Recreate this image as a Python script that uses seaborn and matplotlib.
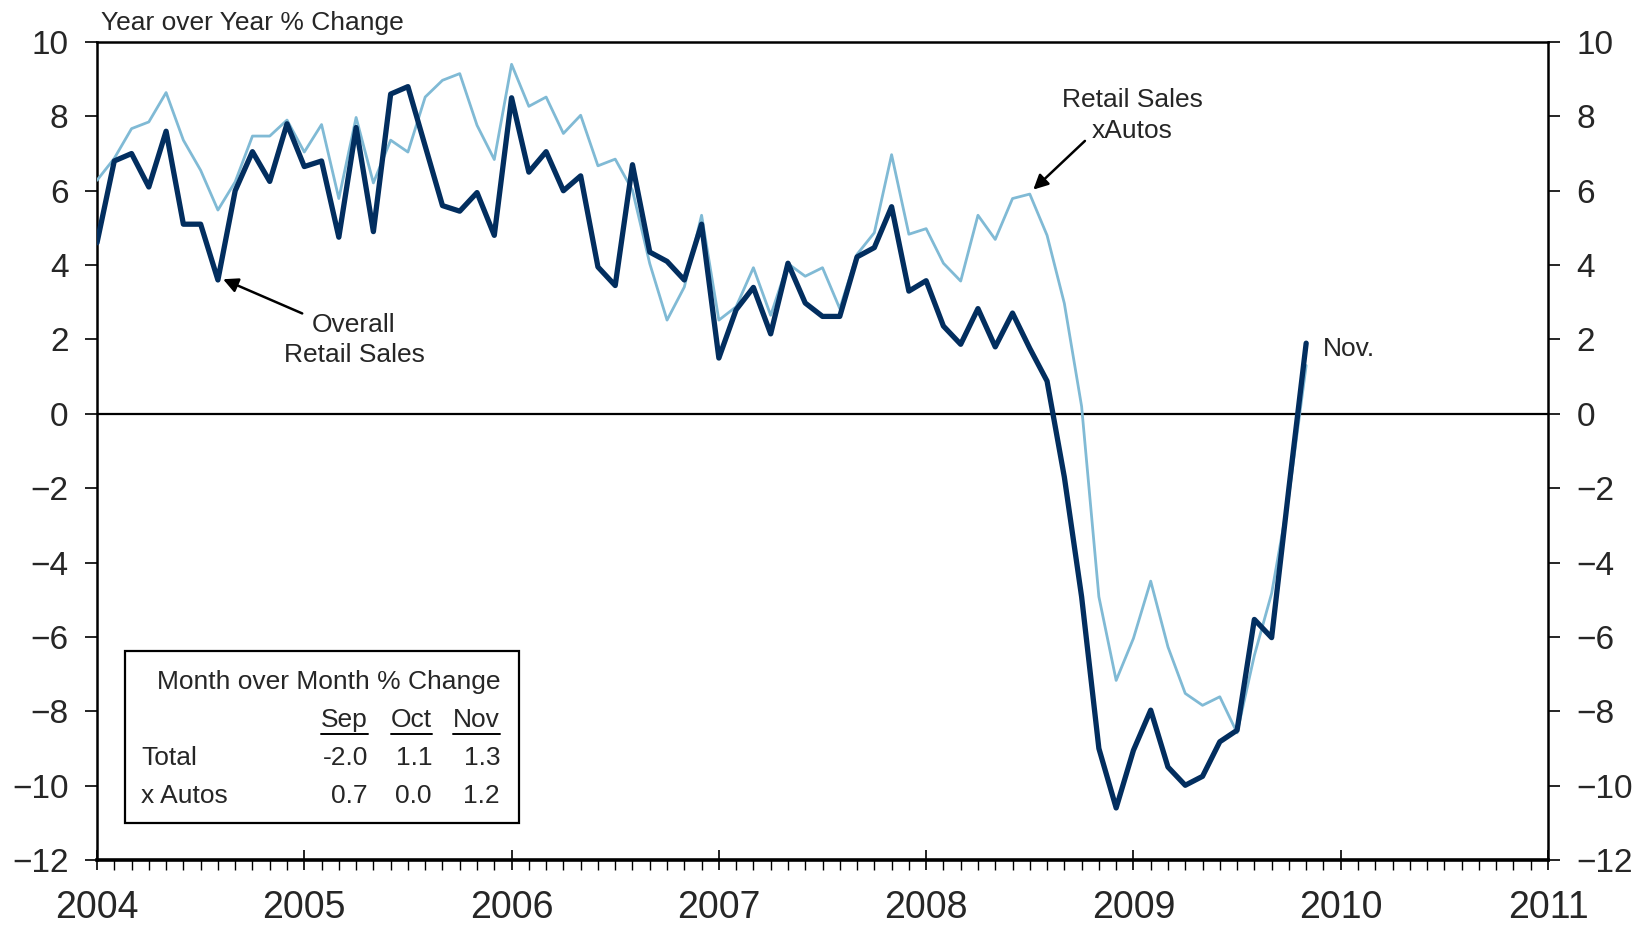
import numpy as np
import pandas as pd
import matplotlib
matplotlib.use("Agg")
import matplotlib.pyplot as plt
import seaborn as sns
from matplotlib.patches import Rectangle
from matplotlib.lines import Line2D
from matplotlib.ticker import MultipleLocator, FixedLocator

# ---------------- data ----------------
start_year = 2004
overall = [4.6, 6.8, 7.0, 6.1, 7.6, 5.1, 5.1, 3.6, 6.0, 7.05, 6.25, 7.8,
           6.65, 6.8, 4.75, 7.7, 4.9, 8.6, 8.8, 7.2, 5.6, 5.45, 5.95, 4.8,
           8.5, 6.5, 7.05, 6.0, 6.4, 3.95, 3.45, 6.7, 4.35, 4.1, 3.6, 5.1,
           1.5, 2.8, 3.4, 2.15, 4.05, 2.98, 2.62, 2.62, 4.22, 4.47, 5.57, 3.3,
           3.58, 2.36, 1.87, 2.83, 1.8, 2.71, 1.76, 0.88, -1.7, -4.92, -9.0, -10.6,
           -9.05, -7.97, -9.5, -9.99, -9.75, -8.82, -8.51, -5.53, -6.02, -2.0, 1.9]
xautos = [6.28, 6.87, 7.67, 7.85, 8.64, 7.36, 6.55, 5.48, 6.24, 7.47, 7.47, 7.9,
          7.04, 7.78, 5.79, 7.97, 6.21, 7.36, 7.04, 8.52, 8.97, 9.15, 7.76, 6.84,
          9.4, 8.27, 8.52, 7.54, 8.03, 6.67, 6.85, 6.01, 4.04, 2.52, 3.41, 5.34,
          2.52, 2.88, 3.93, 2.65, 4.04, 3.7, 3.93, 2.83, 4.29, 4.87, 6.97, 4.83,
          4.98, 4.05, 3.57, 5.34, 4.69, 5.79, 5.91, 4.8, 2.97, 0.2, -4.92, -7.17,
          -6.04, -4.5, -6.27, -7.52, -7.84, -7.61, -8.58, -6.5, -4.83, -2.2, 1.3]
year_ticks = list(range(2004, 2012))
y_ticks = list(range(-12, 11, 2))
table_title = "Month over Month % Change"
table_cols = ["Sep", "Oct", "Nov"]
table_rows = ["Total", "x Autos"]
table_total = ["-2.0", "1.1", "1.3"]
table_xautos = ["0.7", "0.0", "1.2"]

n = len(overall)
t = start_year + np.arange(n) / 12.0
df = pd.DataFrame({"t": t, "overall": overall, "xautos": xautos})

# ---------------- style ----------------
sns.set_style("white")
plt.rcParams["font.family"] = ["Liberation Sans", "DejaVu Sans"]
plt.rcParams["axes.unicode_minus"] = True

W, H = 1638, 927
fig = plt.figure(figsize=(W / 100, H / 100), dpi=100)
L, R, T, B = 97, 1548, 42, 860
ax = fig.add_axes([L / W, 1 - B / H, (R - L) / W, (B - T) / H])

dark = "#022E5F"
light = "#80BAD5"

sns.lineplot(data=df, x="t", y="xautos", ax=ax, color=light, lw=2.0, zorder=3)
sns.lineplot(data=df, x="t", y="overall", ax=ax, color=dark, lw=3.8, zorder=4)
ax.axhline(0, color="black", lw=1.6, zorder=2)

ax.set_xlim(2004, 2011)
ax.set_ylim(-12, 10)
ax.set_xlabel("")
ax.set_ylabel("")
ax.xaxis.set_major_locator(FixedLocator(year_ticks))
ax.xaxis.set_minor_locator(MultipleLocator(1 / 12))
ax.set_xticklabels([str(y) for y in year_ticks])
ax.yaxis.set_major_locator(FixedLocator(y_ticks))
ax.set_yticklabels([(("\u2212" + str(abs(v))) if v < 0 else str(v)) for v in y_ticks])

for s in ax.spines.values():
    s.set_visible(True)
    s.set_color("black")
    s.set_linewidth(1.8)
ax.spines["bottom"].set_linewidth(2.6)

ax.tick_params(axis="x", which="major", direction="inout", length=15, width=1.2,
               labelsize=27, pad=14, bottom=True, top=False, color="black")
ax.tick_params(axis="x", which="minor", direction="out", length=7, width=1.0,
               bottom=True, top=False, color="black")
ax.tick_params(axis="y", which="major", direction="out", length=8.5, width=1.2,
               labelsize=24, left=True, right=True, labelleft=True, labelright=True,
               pad=12, color="black")

# ---------------- annotations ----------------
arrow_kw = dict(arrowstyle="-|>", color="black", lw=1.8, mutation_scale=22,
                shrinkA=0, shrinkB=0)
ax.annotate("", xy=(start_year + 7.3 / 12, 3.62), xytext=(2004.99, 2.7),
            arrowprops=arrow_kw)
ax.text(2005.24, 1.98, "Overall\nRetail Sales", fontsize=19, ha="center",
        va="center", linespacing=1.33)
ax.annotate("", xy=(2008.517, 6.03), xytext=(2008.766, 7.34), arrowprops=arrow_kw)
ax.text(2008.995, 8.02, "Retail Sales\nxAutos", fontsize=19, ha="center",
        va="center", linespacing=1.33)
ax.text(2009.914, 1.75, "Nov.", fontsize=19, ha="left", va="center")

fig.text(101 / W, 1 - 23 / H, "Year over Year % Change", fontsize=19,
         ha="left", va="center")

# ---------------- table box ----------------
def fx(px):
    return px / W


def fy(py):
    return 1 - py / H


box = Rectangle((fx(125), fy(823)), fx(519) - fx(125), fy(651) - fy(823),
                transform=fig.transFigure, facecolor="white", edgecolor="black",
                lw=1.6, zorder=10)
fig.add_artist(box)

tfs = 19
fig.text(fx(500), fy(682), table_title, fontsize=tfs, ha="right", va="center", zorder=11)
col_x = [368, 432, 500]
hdr_texts = []
for cx, c in zip(col_x, table_cols):
    hdr_texts.append(fig.text(fx(cx), fy(720), c, fontsize=tfs, ha="right",
                              va="center", zorder=11))
for row_y, label, vals in zip([758, 796], table_rows, [table_total, table_xautos]):
    fig.text(fx(141), fy(row_y), label, fontsize=tfs, ha="left", va="center", zorder=11)
    for cx, v in zip(col_x, vals):
        fig.text(fx(cx), fy(row_y), v, fontsize=tfs, ha="right", va="center", zorder=11)

fig.canvas.draw()
renderer = fig.canvas.get_renderer()
inv = fig.transFigure.inverted()
for tx in hdr_texts:
    bb = tx.get_window_extent(renderer)
    (x0, _), (x1, _) = inv.transform([(bb.x0, 0), (bb.x1, 0)])
    fig.add_artist(Line2D([x0, x1], [fy(734), fy(734)], transform=fig.transFigure,
                          color="black", lw=1.4, zorder=11))

fig.savefig("out.png", dpi=100)
